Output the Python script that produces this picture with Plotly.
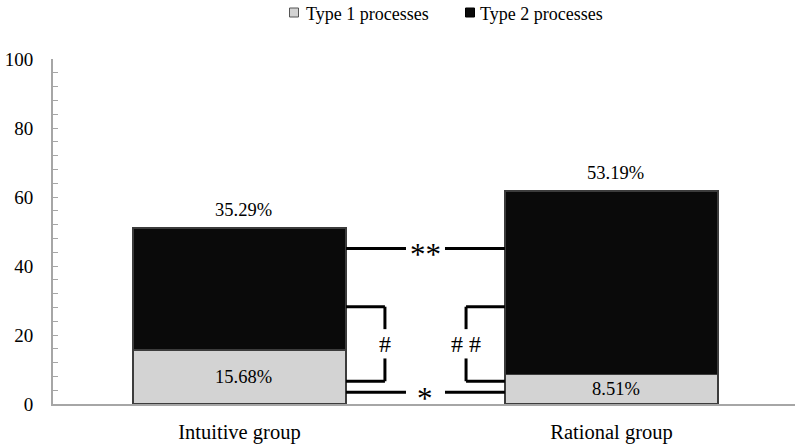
import plotly.graph_objects as go

# ---- data ----
groups = ["Intuitive group", "Rational group"]
type1 = [15.68, 8.51]
type2 = [35.29, 53.19]
series_names = ["Type 1 processes", "Type 2 processes"]
y_ticks = [0, 20, 40, 60, 80, 100]

# ---- layout constants ----
W, H = 795, 445
L, R, T, B = 53, 0, 59, 41
PW, PH = W - L - R, H - T - B
FONT = "Liberation Serif"
xpos = [0, 1]
bw = 0.573
light = "#d3d3d3"
dark = "#0a0a0a"
axis_col = "#a6a6a6"


def pxx(px):
    return (px - L) / PW


def pxy(py):
    return (H - B - py) / PH


fig = go.Figure()
fig.add_bar(x=xpos, y=type1, width=bw, name=series_names[0], showlegend=False,
            marker=dict(color=light, line=dict(color="#3c3c3c", width=1.5)))
fig.add_bar(x=xpos, y=type2, width=bw, name=series_names[1], showlegend=False,
            marker=dict(color=dark, line=dict(color="#3c3c3c", width=1.5)))

annotations = []
shapes = []

# value labels
for i, x in enumerate(xpos):
    annotations.append(dict(x=x, y=type1[i] / 2, xref="x", yref="y", text=f"{type1[i]:.2f}%",
                            showarrow=False, xshift=4, font=dict(family=FONT, size=18.5, color="black")))
    annotations.append(dict(x=x, y=type1[i] + type2[i], xref="x", yref="y", text=f"{type2[i]:.2f}%",
                            showarrow=False, xshift=4, yanchor="bottom", yshift=6,
                            font=dict(family=FONT, size=18.5, color="black")))

# significance brackets
xl = xpos[0] + bw / 2
xr = xpos[1] - bw / 2
mid = (xpos[0] + xpos[1]) / 2
gap = 0.0524
lw = 3


def seg(x0, y0, x1, y1):
    shapes.append(dict(type="line", xref="x", yref="y", x0=x0, y0=y0, x1=x1, y1=y1,
                       line=dict(color="black", width=lw)))


for yv, txt in [(45.1, "**"), (3.4, "*")]:
    seg(xl, yv, mid - gap, yv)
    seg(mid + gap, yv, xr, yv)
    annotations.append(dict(x=mid, y=yv, xref="x", yref="y", text=txt, showarrow=False,
                            yshift=-6, font=dict(family=FONT, size=31, color="black")))

top_b, bot_b = 28.2, 6.6
gap_hi, gap_lo = 21.7, 13.2
for xv, x_edge, txt in [(0.391, xl, "#"), (1 - 0.391, xr, "# #")]:
    seg(x_edge, top_b, xv, top_b)
    seg(xv, top_b, xv, gap_hi)
    seg(xv, gap_lo, xv, bot_b)
    seg(xv, bot_b, x_edge, bot_b)
    annotations.append(dict(x=xv, y=(gap_hi + gap_lo) / 2, xref="x", yref="y", text=txt,
                            showarrow=False, font=dict(family=FONT, size=24, color="black")))

# manual legend
leg = [(289.5, 304, light, "#555555", series_names[0]),
       (465.5, 478, dark, "#000000", series_names[1])]
for sx, tx, fc, lc, name in leg:
    shapes.append(dict(type="rect", xref="paper", yref="paper",
                       x0=pxx(sx), x1=pxx(sx + 9), y0=pxy(17), y1=pxy(8),
                       fillcolor=fc, line=dict(color=lc, width=1)))
    annotations.append(dict(x=pxx(tx), y=pxy(14), xref="paper", yref="paper", text=name,
                            showarrow=False, xanchor="left", yanchor="middle",
                            font=dict(family=FONT, size=18, color="black")))

fig.update_layout(
    width=W, height=H, barmode="stack",
    margin=dict(l=L, r=R, t=T, b=B, pad=0),
    paper_bgcolor="white", plot_bgcolor="white",
    font=dict(family=FONT, color="black"),
    annotations=annotations, shapes=shapes,
    xaxis=dict(range=[-0.501, 1.493], tickvals=xpos, ticktext=groups, showline=True,
               linecolor=axis_col, linewidth=2, ticks="", showgrid=False, zeroline=False,
               tickfont=dict(family=FONT, size=20.5, color="black"), ticklabelstandoff=8),
    yaxis=dict(range=[0, 100], tickvals=y_ticks, showline=True, linecolor=axis_col, linewidth=2,
               ticks="inside", ticklen=5, tickcolor=axis_col, tickwidth=1,
               minor=dict(dtick=4, ticks="inside", ticklen=5, tickcolor=axis_col, tickwidth=1),
               showgrid=False, zeroline=False,
               tickfont=dict(family=FONT, size=19, color="black"), ticklabelstandoff=14),
)

fig.write_html("out.html", config={"displayModeBar": False},
               post_script="document.body.style.margin='0px';document.body.style.overflow='hidden';")
